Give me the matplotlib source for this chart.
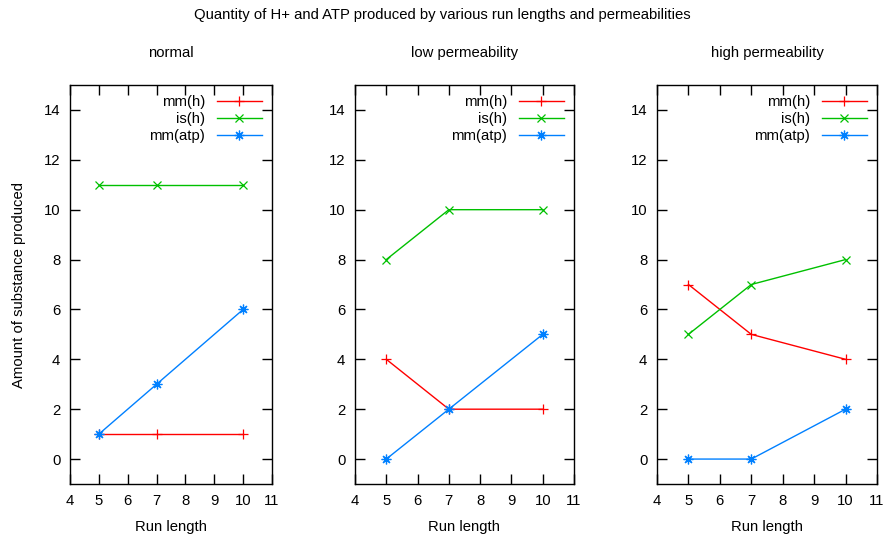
import matplotlib
matplotlib.use("Agg")
import matplotlib.pyplot as plt

plt.rcParams['font.family'] = ['Liberation Sans', 'DejaVu Sans']
plt.rcParams['font.size'] = 10.7

run_length = [5, 7, 10]
titles = ["normal", "low permeability", "high permeability"]

mm_h = [[1, 1, 1], [4, 2, 2], [7, 5, 4]]
is_h = [[11, 11, 11], [8, 10, 10], [5, 7, 8]]
mm_atp = [[1, 3, 6], [0, 2, 5], [0, 0, 2]]

xticks = [4, 5, 6, 7, 8, 9, 10, 11]
yticks = [0, 2, 4, 6, 8, 10, 12, 14]

fig = plt.figure(figsize=(8.85, 5.39), dpi=100)
fig.suptitle("Quantity of H+ and ATP produced by various run lengths and permeabilities",
             y=0.985, fontsize=10.7)

# axes boxes in pixels: left, width
boxes = [(70, 202), (355, 219), (657, 220)]
W, H = 885.0, 539.0
for i in range(3):
    l, w = boxes[i]
    ax = fig.add_axes([l / W, (539 - 484) / H, w / W, 399 / H])
    ax.plot(run_length, mm_h[i], color="#ff0000", marker="+", ms=7, mew=0.9, lw=1, label="mm(h)")
    ax.plot(run_length, is_h[i], color="#00c000", marker="x", ms=5.5, mew=0.9, lw=1, label="is(h)")
    ax.plot(run_length, mm_atp[i], color="#0080ff", marker=(8, 2, 0), ms=7, mew=0.9, lw=1, label="mm(atp)")
    ax.set_xlim(4, 11)
    ax.set_ylim(-1, 15)
    ax.set_xticks(xticks)
    ax.set_yticks(yticks)
    ax.tick_params(direction="in", length=7, top=True, right=True, width=1, pad=7)
    ax.set_title(titles[i], pad=20, fontsize=10.7)
    ax.set_xlabel("Run length", labelpad=9)
    if i == 0:
        ax.set_ylabel("Amount of substance produced", labelpad=13)
    for s in ax.spines.values():
        s.set_linewidth(1)
    ax.legend(loc="upper right", frameon=False, markerfirst=False, handlelength=3.0,
              borderaxespad=0.3, labelspacing=0.2, handletextpad=0.8, fontsize=10.7)

fig.savefig("out.png", dpi=100)
